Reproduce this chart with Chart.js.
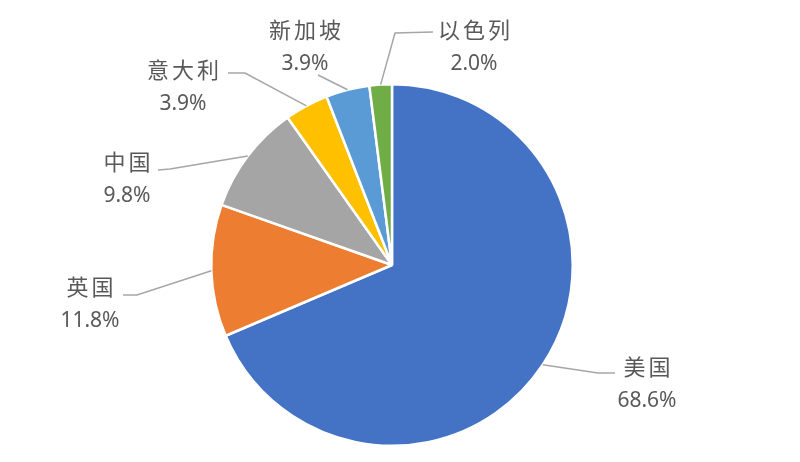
<!DOCTYPE html>
<html>
<head>
<meta charset="utf-8">
<script src="https://cdn.jsdelivr.net/npm/chart.js@4.4.0/dist/chart.umd.min.js"></script>
<style>
  html, body { margin: 0; padding: 0; background: #fff; }
  #pie { display: block; }
</style>
</head>
<body>
<canvas id="pie" width="800" height="462"></canvas>
<script>
// dados do gráfico (sentido horário a partir do topo)
const countries = ['美国', '英国', '中国', '意大利', '新加坡', '以色列'];
const shares = [68.6, 11.8, 9.8, 3.9, 3.9, 2.0];
const sliceColors = ['#4472C4', '#ED7D31', '#A5A5A5', '#FFC000', '#5B9BD5', '#70AD47'];

// posição dos rótulos: centro do texto + pontos da linha guia (até a borda da fatia)
const labelLayout = [
  { x: 647, y: 367, line: [[615, 373], [598, 373]] },
  { x: 90,  y: 287, line: [[123, 295], [137, 295]] },
  { x: 127, y: 162, line: [[158, 170], [170, 169]] },
  { x: 183, y: 70,  line: [[228, 73], [245, 73]] },
  { x: 305, y: 30,  line: [[318, 75]] },
  { x: 474, y: 30,  line: [[433, 32], [395, 33]] }
];

const leaderLabels = {
  id: 'leaderLabels',
  afterDraw(chart) {
    const ctx = chart.ctx;
    const arcs = chart.getDatasetMeta(0).data;
    ctx.save();
    arcs.forEach((arc, i) => {
      const p = arc.getProps(['x', 'y', 'startAngle', 'endAngle', 'outerRadius'], true);
      const mid = (p.startAngle + p.endAngle) / 2;
      const ex = p.x + Math.cos(mid) * p.outerRadius;
      const ey = p.y + Math.sin(mid) * p.outerRadius;
      const lay = labelLayout[i];

      // linha guia
      ctx.beginPath();
      ctx.strokeStyle = '#A6A6A6';
      ctx.lineWidth = 1.5;
      const pts = lay.line;
      ctx.moveTo(pts[0][0], pts[0][1]);
      for (let k = 1; k < pts.length; k++) ctx.lineTo(pts[k][0], pts[k][1]);
      ctx.lineTo(ex, ey);
      ctx.stroke();

      // texto
      ctx.fillStyle = '#595959';
      ctx.textAlign = 'center';
      ctx.textBaseline = 'middle';
      ctx.font = '22px "Noto Sans CJK SC", "Noto Sans", sans-serif';
      if ('letterSpacing' in ctx) ctx.letterSpacing = '3px';
      ctx.fillText(countries[i], lay.x + 1.5, lay.y);
      if ('letterSpacing' in ctx) ctx.letterSpacing = '0px';
      ctx.font = '21px "Noto Sans", "DejaVu Sans", sans-serif';
      ctx.fillText(shares[i].toFixed(1) + '%', lay.x, lay.y + 34);
    });
    ctx.restore();
  }
};

new Chart(document.getElementById('pie').getContext('2d'), {
  type: 'pie',
  data: {
    labels: countries,
    datasets: [{
      data: shares,
      backgroundColor: sliceColors,
      borderColor: '#ffffff',
      borderWidth: 2.5
    }]
  },
  options: {
    responsive: false,
    devicePixelRatio: 1,
    animation: false,
    layout: {
      padding: { left: 210, right: 226, top: 83, bottom: 15 }
    },
    plugins: {
      legend: { display: false },
      tooltip: { enabled: false }
    }
  },
  plugins: [leaderLabels]
});
</script>
</body>
</html>
